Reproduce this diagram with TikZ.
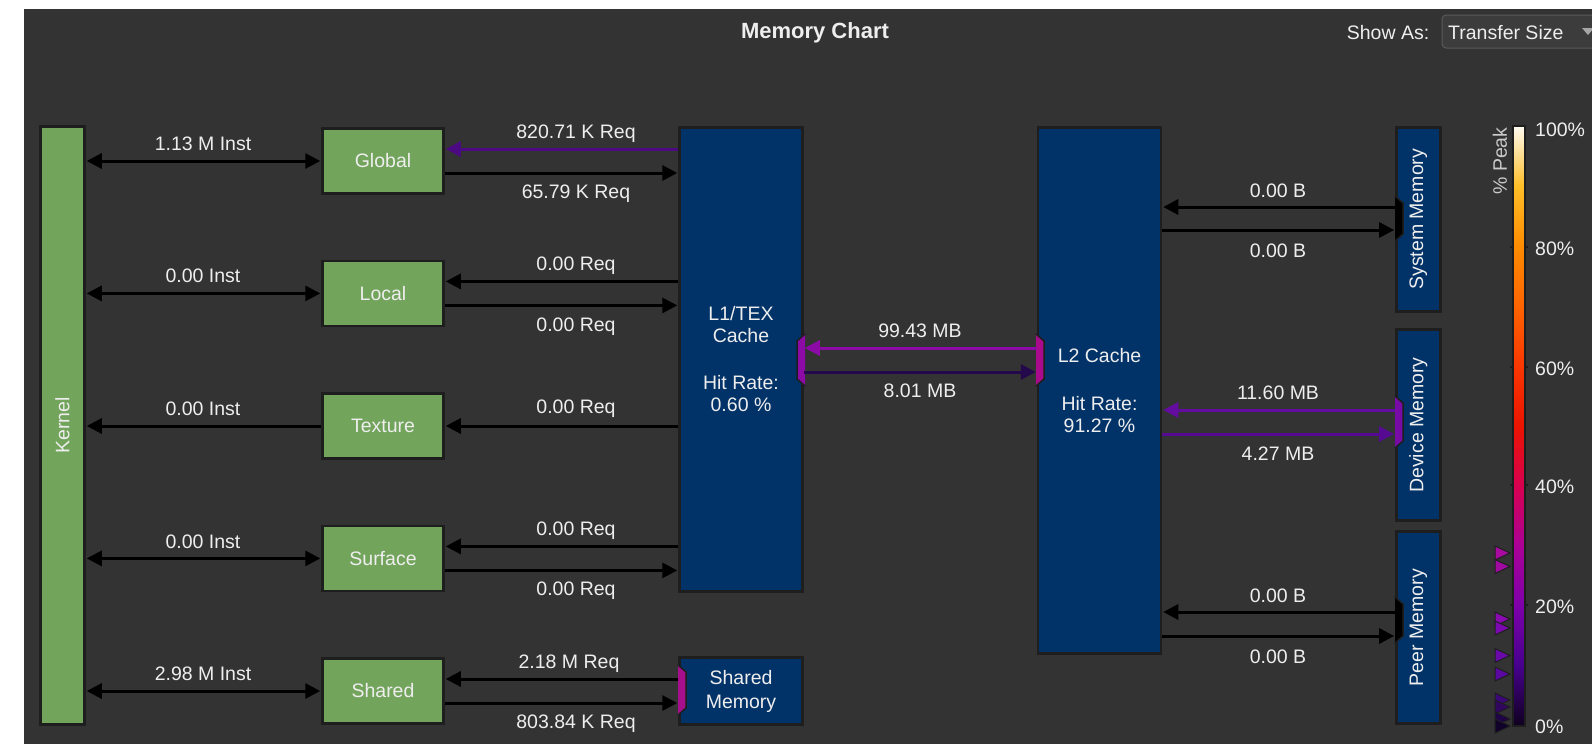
\documentclass[tikz,border=0pt]{standalone}
\usepackage{fontspec}
\setmainfont{Liberation Sans}
\usetikzlibrary{arrows.meta,calc}
\definecolor{bgc}{RGB}{51,51,51}
\definecolor{kgreen}{RGB}{114,164,92}
\definecolor{kblue}{RGB}{2,51,104}
\definecolor{edgec}{RGB}{30,30,30}
\definecolor{txt}{RGB}{238,238,238}
\definecolor{a820}{RGB}{75,10,130}
\definecolor{a9943}{RGB}{140,10,165}
\definecolor{a801}{RGB}{35,8,75}
\definecolor{a1160}{RGB}{100,12,160}
\definecolor{a427}{RGB}{85,10,145}
\definecolor{pL1}{RGB}{140,10,165}
\definecolor{pL2}{RGB}{170,10,140}
\definecolor{pSM}{RGB}{165,15,140}
\definecolor{pDev}{RGB}{120,10,165}
\definecolor{ddfill}{RGB}{60,60,60}
\definecolor{ddedge}{RGB}{90,90,90}
\definecolor{c00}{RGB}{14,0,30}
\definecolor{c10}{RGB}{70,0,140}
\definecolor{c20}{RGB}{125,0,170}
\definecolor{c30}{RGB}{170,0,150}
\definecolor{c40}{RGB}{215,0,80}
\definecolor{c50}{RGB}{235,20,0}
\definecolor{c60}{RGB}{250,55,0}
\definecolor{c70}{RGB}{255,100,0}
\definecolor{c80}{RGB}{255,140,0}
\definecolor{c90}{RGB}{255,190,40}
\definecolor{c100}{RGB}{255,250,240}
\pgfdeclareverticalshading{peakshade}{100bp}{color(0bp)=(c00); color(25bp)=(c00); color(30bp)=(c10); color(35bp)=(c20); color(40bp)=(c30); color(45bp)=(c40); color(50bp)=(c50); color(55bp)=(c60); color(60bp)=(c70); color(65bp)=(c80); color(70bp)=(c90); color(75bp)=(c100); color(100bp)=(c100)}
\begin{document}
\begin{tikzpicture}[x=1pt,y=-1pt,
  font=\fontsize{19.5}{22}\selectfont,
  box/.style={draw=edgec, line width=2.5pt, inner sep=0pt, text=txt, align=center},
  gbox/.style={box, fill=kgreen, minimum width=121pt, minimum height=65pt},
  bbox/.style={box, fill=kblue},
  arr/.style={line width=3pt, -{Triangle[length=15pt,width=15pt]}, shorten >=1pt},
  darr/.style={line width=3pt, {Triangle[length=15pt,width=15pt]}-{Triangle[length=15pt,width=15pt]}, shorten >=1pt, shorten <=1pt},
  lbl/.style={text=txt, inner sep=0pt, yshift=-1.5pt},
  port/.style={draw=edgec, line width=1.5pt, line join=miter},
  mkstyle/.style={draw=edgec, line width=1pt}]
\useasboundingbox (0,0) rectangle (1592,744);
\fill[white] (0,0) rectangle (1592,744);
\fill[bgc] (24,9) rectangle (1592,744);

% header
\node[lbl, font=\fontsize{22}{26}\selectfont\bfseries] (title) at (815,31) {Memory Chart};
\node[lbl] (showas) at (1388,31) {Show As:};
\draw[fill=ddfill, draw=ddedge, rounded corners=4pt, line width=1pt] (1442,15) rectangle (1612,48);
\node[lbl, anchor=west] (tsize) at (1448,31) {Transfer Size};
\fill[gray!70] (1582,28) -- (1594,28) -- (1588,35) -- cycle;

% boxes
\node[gbox, minimum width=44pt, minimum height=598pt] (kernel) at (62.5,425.5) {\rotatebox{90}{Kernel}};
\node[gbox] (global) at (383,161) {Global};
\node[gbox] (local) at (383,293.4) {Local};
\node[gbox] (texture) at (383,426) {Texture};
\node[gbox] (surface) at (383,558.4) {Surface};
\node[gbox] (shared) at (383,691) {Shared};
\node[bbox, minimum width=123pt, minimum height=464pt] (l1) at (741,359.5) {L1/TEX\\Cache\\[25pt]Hit Rate:\\0.60 \%};
\node[bbox, minimum width=123pt, minimum height=67pt, font=\fontsize{19.5}{24}\selectfont] (smem) at (741,691) {Shared\\Memory};
\node[bbox, minimum width=123pt, minimum height=526pt] (l2) at (1099.5,390.4) {L2 Cache\\[26pt]Hit Rate:\\91.27 \%};
\node[bbox, minimum width=44pt, minimum height=184pt] (sysmem) at (1418.4,219.3) {\rotatebox{90}{System Memory}};
\node[bbox, minimum width=44pt, minimum height=191pt] (devmem) at (1418.4,425) {\rotatebox{90}{Device Memory}};
\node[bbox, minimum width=44pt, minimum height=192pt] (peermem) at (1418.4,627.5) {\rotatebox{90}{Peer Memory}};

% ports
\filldraw[port, fill=pL1] (805,334) -- (797,341) -- (797,379) -- (805,386);
\filldraw[port, fill=pL2] (1036,334) -- (1044,341) -- (1044,379) -- (1036,386);
\filldraw[port, fill=pSM] (678,665) -- (686,672) -- (686,708) -- (678,715);
\filldraw[port, fill=black] (1395,196) -- (1403,203) -- (1403,234) -- (1395,241);
\filldraw[port, fill=pDev] (1395,396) -- (1403,403) -- (1403,441) -- (1395,448);
\filldraw[port, fill=black] (1395,597) -- (1403,604) -- (1403,636) -- (1395,643);

% kernel side connectors
\draw[darr] (kernel.east |- global.west) -- (global.west);
\draw[darr] (kernel.east |- local.west) -- (local.west);
\draw[arr] (texture.west) -- (kernel.east |- texture.west);
\draw[darr] (kernel.east |- surface.west) -- (surface.west);
\draw[darr] (kernel.east |- shared.west) -- (shared.west);

% L1 side connectors
\coordinate (gu) at ($(global.east)+(0,-12)$);
\coordinate (gd) at ($(global.east)+(0,12)$);
\coordinate (lu) at ($(local.east)+(0,-12)$);
\coordinate (ld) at ($(local.east)+(0,12)$);
\coordinate (su) at ($(surface.east)+(0,-12)$);
\coordinate (sd) at ($(surface.east)+(0,12)$);
\coordinate (hu) at ($(shared.east)+(0,-12)$);
\coordinate (hd) at ($(shared.east)+(0,12)$);
\draw[arr, a820] (l1.west |- gu) -- (gu);
\draw[arr] (gd) -- (l1.west |- gd);
\draw[arr] (l1.west |- lu) -- (lu);
\draw[arr] (ld) -- (l1.west |- ld);
\draw[arr] (l1.west |- texture.east) -- (texture.east);
\draw[arr] (l1.west |- su) -- (su);
\draw[arr] (sd) -- (l1.west |- sd);
\draw[arr] (smem.west |- hu) -- (hu);
\draw[arr] (hd) -- (smem.west |- hd);

% L1 - L2
\coordinate (m1) at (0,348);
\coordinate (m2) at (0,372);
\draw[arr, a9943] (l2.west |- m1) -- (l1.east |- m1);
\draw[arr, a801] (l1.east |- m2) -- (l2.west |- m2);

% L2 - memories
\coordinate (r1) at (0,207);
\coordinate (r2) at (0,230);
\coordinate (r3) at (0,410);
\coordinate (r4) at (0,434);
\coordinate (r5) at (0,612);
\coordinate (r6) at (0,636);
\draw[arr] (sysmem.west |- r1) -- (l2.east |- r1);
\draw[arr] (l2.east |- r2) -- (sysmem.west |- r2);
\draw[arr, a1160] (devmem.west |- r3) -- (l2.east |- r3);
\draw[arr, a427] (l2.east |- r4) -- (devmem.west |- r4);
\draw[arr] (peermem.west |- r5) -- (l2.east |- r5);
\draw[arr] (l2.east |- r6) -- (peermem.west |- r6);

% labels
\node[lbl] (k1) at (203,142) {1.13 M Inst};
\node[lbl] (k2) at (203,274) {0.00 Inst};
\node[lbl] (k3) at (203,407) {0.00 Inst};
\node[lbl] (k4) at (203,540) {0.00 Inst};
\node[lbl] (k5) at (203,672) {2.98 M Inst};
\node[lbl] (q1) at (576,132) {820.71 K Req};
\node[lbl] (q2) at (576,192) {65.79 K Req};
\node[lbl] (q3) at (576,264) {0.00 Req};
\node[lbl] (q4) at (576,325) {0.00 Req};
\node[lbl] (q5) at (576,407) {0.00 Req};
\node[lbl] (q6) at (576,529) {0.00 Req};
\node[lbl] (q7) at (576,589) {0.00 Req};
\node[lbl] (q8) at (569,662) {2.18 M Req};
\node[lbl] (q9) at (576,722) {803.84 K Req};
\node[lbl] (c1) at (920,329) {99.43 MB};
\node[lbl] (c2) at (920,389) {8.01 MB};
\node[lbl] (d1) at (1278,189) {0.00 B};
\node[lbl] (d2) at (1278,249) {0.00 B};
\node[lbl] (d3) at (1278,391) {11.60 MB};
\node[lbl] (d4) at (1278,452) {4.27 MB};
\node[lbl] (d5) at (1278,594) {0.00 B};
\node[lbl] (d6) at (1278,655) {0.00 B};

% colour bar
\node[draw=edgec, line width=2pt, shading=peakshade, minimum width=12pt, minimum height=600pt, inner sep=0pt] (cbar) at (1519,426) {};
\foreach \yy in {247,367,485,605}
  \draw[edgec, line width=1.5pt] (1510,\yy) -- (1514,\yy) (1524,\yy) -- (1528,\yy);
\node[lbl, anchor=west] (p100) at (1535,128) {100\%};
\node[lbl, anchor=west] (p80) at (1535,247) {80\%};
\node[lbl, anchor=west] (p60) at (1535,367) {60\%};
\node[lbl, anchor=west] (p40) at (1535,485) {40\%};
\node[lbl, anchor=west] (p20) at (1535,605) {20\%};
\node[lbl, anchor=west] (p0) at (1535,725) {0\%};
\node[text=txt!85!black, inner sep=0pt] (peak) at (1500,161) {\rotatebox{90}{\% Peak}};

% markers
\foreach \yy/\cc in {553/{168,10,160}, 566.5/{160,10,160}, 619/{138,10,176}, 628/{124,8,176}, 655.5/{106,8,168}, 674/{90,8,160}, 700/{60,8,120}, 707/{48,6,94}, 719/{32,4,72}, 726/{16,2,40}} {
  \definecolor{mk}{RGB}{\cc}
  \filldraw[mkstyle, fill=mk] (1495,\yy-7) -- (1510,\yy) -- (1495,\yy+7) -- cycle;
}
\end{tikzpicture}
\end{document}
